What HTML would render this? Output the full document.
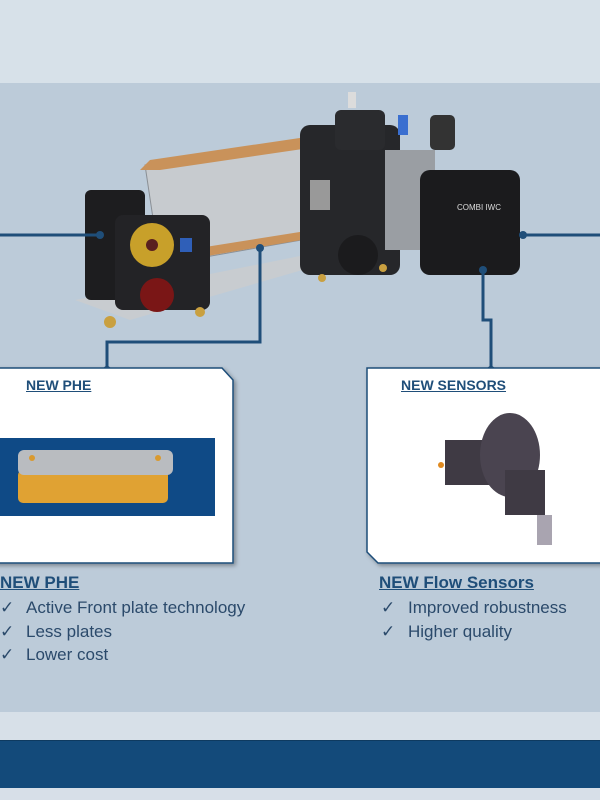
<!DOCTYPE html>
<html><head><meta charset="utf-8"><style>
body{margin:0;width:600px;height:800px;overflow:hidden;background:#bccbd9;font-family:"Liberation Sans",sans-serif;position:relative}
.a{position:absolute}
.t{color:#1f4e79;font-weight:bold;text-decoration:underline}
.li{color:#2b4a6b;font-size:17px;position:absolute}
</style></head><body>
<div class="a" style="left:0;top:0;width:600px;height:83px;background:#d7e1e9"></div>
<div class="a" style="left:0;top:712px;width:600px;height:28px;background:#d7e0e8"></div>
<div class="a" style="left:0;top:740px;width:600px;height:47px;background:#134a7a;border-top:1px solid #0e3a60;border-bottom:1px solid #0e3a60"></div>
<div class="a" style="left:0;top:788px;width:600px;height:12px;background:#d7dfe8"></div>
<svg class="a" style="left:0;top:0" width="600" height="800">
<defs><filter id="s"><feDropShadow dx="2" dy="2" stdDeviation="2" flood-opacity="0.35"/></filter></defs>
<!-- base plate -->
<polygon points="75,300 130,320 330,262 400,255 380,240 130,290" fill="#c8ccd0"/>
<!-- PHE block -->
<polygon points="145,165 320,140 330,235 160,265" fill="#c7cbcf" stroke="#8a8f95"/>
<polygon points="140,170 150,160 320,135 330,145 160,170" fill="#c9925a"/>
<polygon points="155,255 325,228 325,236 160,264" fill="#c9925a"/>
<!-- left valve -->
<rect x="85" y="190" width="60" height="110" rx="6" fill="#1d1d1f"/>
<rect x="115" y="215" width="95" height="95" rx="8" fill="#232326"/>
<circle cx="152" cy="245" r="22" fill="#c8a02a"/><circle cx="152" cy="245" r="6" fill="#5a1f1f"/>
<circle cx="157" cy="295" r="17" fill="#7a1616"/>
<rect x="180" y="238" width="12" height="14" fill="#2f5fb8"/>
<circle cx="110" cy="322" r="6" fill="#c9a040"/><circle cx="200" cy="312" r="5" fill="#c9a040"/>
<!-- middle valve cluster -->
<rect x="300" y="125" width="100" height="150" rx="10" fill="#26272a"/>
<rect x="335" y="110" width="50" height="40" rx="6" fill="#2a2b2e"/>
<rect x="348" y="92" width="8" height="16" fill="#dcdcdc"/>
<rect x="398" y="115" width="10" height="20" fill="#3a6fd0"/>
<circle cx="358" cy="255" r="20" fill="#1b1b1d"/>
<rect x="310" y="180" width="20" height="30" fill="#999"/>
<rect x="430" y="115" width="25" height="35" rx="5" fill="#333"/>
<!-- pump -->
<rect x="385" y="150" width="50" height="100" fill="#9a9ea3"/>
<rect x="420" y="170" width="100" height="105" rx="10" fill="#1b1b1d"/>
<text x="457" y="210" fill="#ddd" font-size="8" font-family="Liberation Sans">COMBI IWC</text>
<circle cx="322" cy="278" r="4" fill="#c9a040"/><circle cx="383" cy="268" r="4" fill="#c9a040"/>
<!-- connectors -->
<g stroke="#1f4e79" stroke-width="3" fill="none">
<path d="M0 235H100"/><path d="M523 235H600"/>
<path d="M260 248V342H107V370"/>
<path d="M483 270V320H491V369"/>
</g>
<g fill="#1f4e79"><circle cx="100" cy="235" r="4"/><circle cx="523" cy="235" r="4"/><circle cx="260" cy="248" r="4"/><circle cx="107" cy="370" r="4"/><circle cx="483" cy="270" r="4"/><circle cx="491" cy="370" r="4"/></g>
<!-- boxes -->
<polygon points="-5,368 222,368 233,380 233,563 -5,563" fill="#fff" stroke="#1f4e79" stroke-width="1.5" filter="url(#s)"/>
<polygon points="367,368 605,368 605,563 378,563 367,552" fill="#fff" stroke="#1f4e79" stroke-width="1.5" filter="url(#s)"/>
<!-- PHE image -->
<rect x="0" y="438" width="215" height="78" fill="#0f4a86"/>
<rect x="18" y="470" width="150" height="33" rx="5" fill="#e0a233"/>
<rect x="18" y="450" width="155" height="25" rx="6" fill="#b9bcc0"/>
<circle cx="32" cy="458" r="3" fill="#d99a30"/><circle cx="158" cy="458" r="3" fill="#d99a30"/>
<!-- sensor image -->
<rect x="445" y="440" width="50" height="45" fill="#3f3a44"/>
<ellipse cx="510" cy="455" rx="30" ry="42" fill="#4a4450"/>
<rect x="505" y="470" width="40" height="45" fill="#3f3a44"/>
<rect x="537" y="515" width="15" height="30" fill="#a9a4b0"/>
<circle cx="441" cy="465" r="3" fill="#e08a20"/>
</svg>
<div class="a t" style="left:26px;top:377px;font-size:14px">NEW PHE</div>
<div class="a t" style="left:401px;top:377px;font-size:14px">NEW SENSORS</div>
<div class="a t" style="left:0;top:573px;font-size:17px">NEW PHE</div>
<div class="li" style="left:0;top:598px">✓</div><div class="li" style="left:26px;top:598px">Active Front plate technology</div>
<div class="li" style="left:0;top:622px">✓</div><div class="li" style="left:26px;top:622px">Less plates</div>
<div class="li" style="left:0;top:645px">✓</div><div class="li" style="left:26px;top:645px">Lower cost</div>
<div class="a t" style="left:379px;top:573px;font-size:17px">NEW Flow Sensors</div>
<div class="li" style="left:381px;top:598px">✓</div><div class="li" style="left:408px;top:598px">Improved robustness</div>
<div class="li" style="left:381px;top:622px">✓</div><div class="li" style="left:408px;top:622px">Higher quality</div>
</body></html>
